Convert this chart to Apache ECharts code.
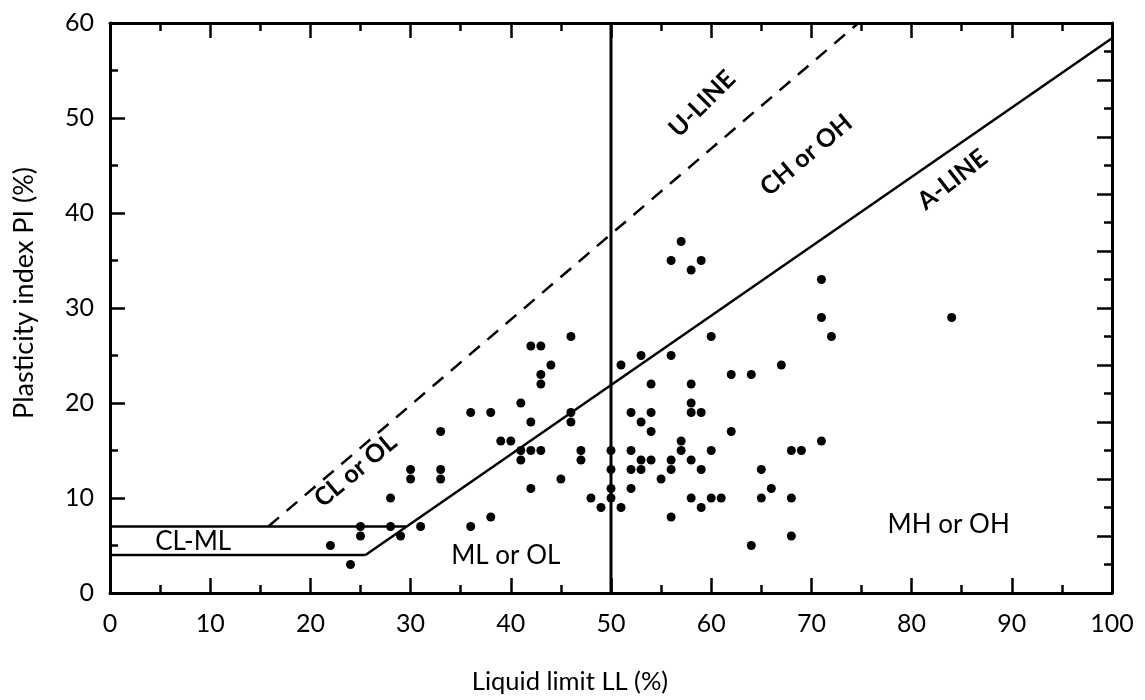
<!DOCTYPE html>
<html><head><meta charset="utf-8">
<script src="https://cdn.jsdelivr.net/npm/echarts@6/dist/echarts.min.js"></script>
<style>html,body{margin:0;padding:0;background:#fff}#c{width:1145px;height:700px}</style>
</head><body><div id="c"></div>
<script>
// Sample points: liquid limit LL (%) and plasticity index PI (%)
const liquidLimit = [
 22,24,25,25,28,28,29,31,30,30,33,33,33,36,38,36,38,39,40,41,41,41,42,42,42,
 43,46,44,43,43,46,46,42,43,47,47,50,50,50,50,45,48,49,51,51,53,56,57,56,58,59,
 54,58,58,58,59,52,54,53,54,57,57,52,52,53,54,53,56,56,58,59,55,52,58,59,56,
 71,71,72,60,67,62,64,62,71,60,68,69,65,66,60,61,65,68,68,64,
 84
];
const plasticityIndex = [
 5,3,7,6,10,7,6,7,13,12,17,13,12,19,19,7,8,16,16,20,15,14,18,26,11,
 26,27,24,23,22,19,18,15,15,15,14,15,13,11,10,12,10,9,9,24,25,25,37,35,34,35,
 22,22,20,19,19,19,19,18,17,16,15,15,13,14,14,13,14,13,14,13,12,11,10,9,8,
 33,29,27,27,24,23,23,17,16,15,15,15,13,11,10,10,10,10,6,5,
 29
];
// Reference lines of the plasticity chart
const aLine = [[25.5,4],[100,58.4]];
const uLine = [[15.8,7],[74.7,60]];
const clmlLower = [[0,4],[25.5,4]];
const clmlUpper = [[0,7],[29.6,7]];
const llDivider = [[50,0],[50,60]];
// Zone labels
const zoneNames = ['U-LINE','CH or OH','A-LINE','CL or OL','CL-ML','ML or OL','MH or OH'];
const zoneAnchors = [[59.1,51.5],[69.5,46.1],[84.1,43.5],[24.5,12.9],[8.3,5.4],[39.5,3.9],[83.7,7.2]];
const zoneRotate = [45,40,38,40,0,0,0];
const zoneBold = [true,true,true,true,false,false,false];

const FONT = 'Lato';
const points = liquidLimit.map((x,i)=>[x, plasticityIndex[i]]);
const lineStyle = {color:'#000', width:2.5};
function refLine(data, extra){
  return {type:'line', data, symbol:'none', silent:true, z:3,
    lineStyle:Object.assign({}, lineStyle, extra||{})};
}
const tickCommon = {
  axisLine:{show:true, onZero:false, lineStyle:{color:'#000', width:3}},
  axisTick:{show:true, inside:true, length:15, lineStyle:{color:'#000', width:2.5}},
  minorTick:{show:true, splitNumber:2, length:8, lineStyle:{color:'#000', width:2.5}},
  splitLine:{show:false}
};
const option = {
  animation:false,
  backgroundColor:'#fff',
  grid:{left:110, right:33, top:23, bottom:105, containLabel:false},
  xAxis:[
    Object.assign({type:'value', min:0, max:100, interval:10, position:'bottom',
      name:'Liquid limit LL (%)', nameLocation:'middle', nameGap:76,
      nameTextStyle:{fontFamily:FONT, fontSize:25.5, color:'#000', padding:[0,82,0,0]},
      axisLabel:{fontFamily:FONT, fontSize:25, color:'#000', margin:18}}, tickCommon),
    Object.assign({type:'value', min:0, max:100, interval:10, position:'top',
      axisLabel:{show:false}}, tickCommon)
  ],
  yAxis:[
    Object.assign({type:'value', min:0, max:60, interval:10, position:'left',
      name:'Plasticity index PI (%)', nameLocation:'middle', nameGap:72, nameRotate:90,
      nameTextStyle:{fontFamily:FONT, fontSize:27, color:'#000', padding:[0,0,0,30]},
      axisLabel:{fontFamily:FONT, fontSize:25, color:'#000', margin:16}}, tickCommon),
    Object.assign({type:'value', min:0, max:60, interval:6, position:'right',
      axisLabel:{show:false}}, tickCommon)
  ],
  series:[
    refLine(aLine),
    refLine(uLine, {type:[14,10]}),
    refLine(clmlLower),
    refLine(clmlUpper),
    refLine(llDivider, {width:3}),
    {type:'scatter', data:points, symbol:'circle', symbolSize:9,
     itemStyle:{color:'#000', opacity:1}, z:5, silent:true},
    {type:'scatter', silent:true, symbolSize:0, z:6, itemStyle:{color:'#000', opacity:1},
     data: zoneNames.map((n,i)=>({value:zoneAnchors[i], name:n,
       label:{show:true, formatter:n, position:'inside', rotate:zoneRotate[i],
         align:'center', verticalAlign:'middle', opacity:1,
         textBorderWidth:0, textBorderColor:'transparent', textShadowBlur:0,
         fontFamily:FONT, fontSize: zoneBold[i]?25:26,
         fontWeight: zoneBold[i]?'bold':'normal', color:'#000'}}))}
  ]
};
const chart = echarts.init(document.getElementById('c'), null, {renderer:'canvas'});
chart.setOption(option);
</script></body></html>
